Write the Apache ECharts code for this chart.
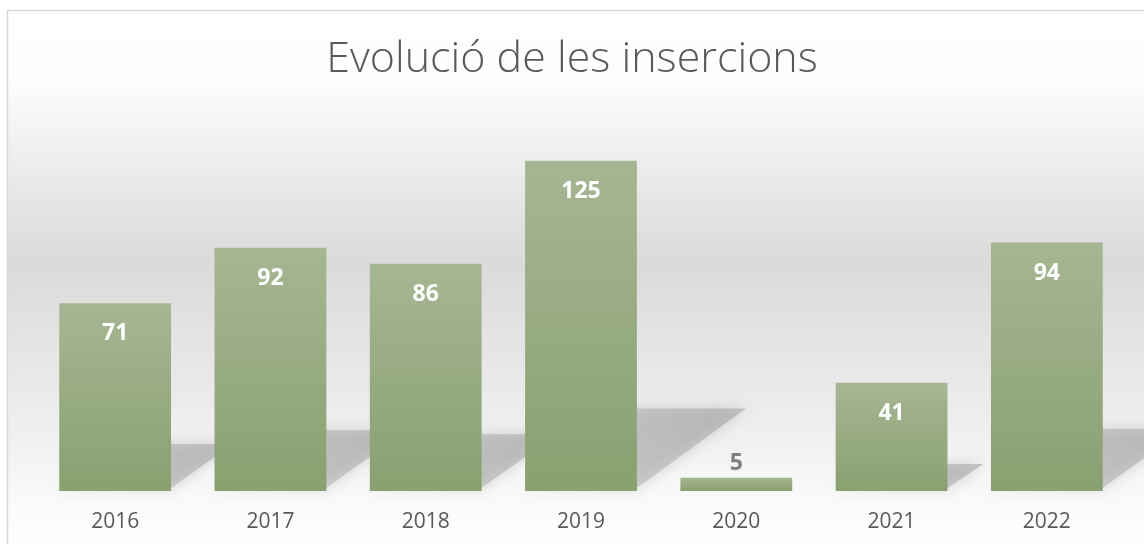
<!DOCTYPE html>
<html>
<head>
<meta charset="utf-8">
<script src="https://cdn.jsdelivr.net/npm/echarts@6/dist/echarts.min.js"></script>
<style>
  html, body { margin: 0; padding: 0; background: #fff; }
  #chart { width: 1144px; height: 544px; }
</style>
</head>
<body>
<div id="chart"></div>
<script>
"use strict";
(() => {
    const years = ['2016', '2017', '2018', '2019', '2020', '2021', '2022'];
    const insercions = [71, 92, 86, 125, 5, 41, 94];

    let chart = echarts.init(document.getElementById('chart'));

    // ombra inclinada darrere de cada barra
    const renderShadow = (params, api) => {
        const i = api.value(0);
        const v = api.value(1);
        const base = api.coord([i, 0]);
        const top = api.coord([i, v]);
        const size = api.size([1, 0]);
        const w = size[0] * 0.72;
        const h = base[1] - top[1];
        const dy = h * 0.25;
        const dx = h * 0.33;
        const x0 = base[0] - w / 2;
        const x1 = base[0] + w / 2;
        return {
            type: 'polygon',
            shape: {
                points: [[x0, base[1] - 3], [x1, base[1] - 3], [x1 + dx, base[1] - dy], [x0 + dx, base[1] - dy]]
            },
            style: {
                fill: new echarts.graphic.LinearGradient(0, 1, 1, 0, [
                    { offset: 0, color: 'rgba(175,175,175,0.35)' },
                    { offset: 1, color: 'rgba(165,165,165,0.6)' }
                ]),
                shadowBlur: 14,
                shadowColor: 'rgba(160,160,160,0.8)'
            }
        };
    };

    let option = {
        animation: false,
        graphic: [{
            type: 'rect',
            z: -10,
            shape: { x: 7.5, y: 10.5, width: 1160, height: 560 },
            style: {
                stroke: '#d9d9d9',
                lineWidth: 1.5,
                fill: new echarts.graphic.LinearGradient(0, 0, 0, 1, [
                    { offset: 0, color: '#ffffff' },
                    { offset: 0.12, color: '#fdfdfd' },
                    { offset: 0.45, color: '#dadada' },
                    { offset: 0.75, color: '#efefef' },
                    { offset: 0.92, color: '#fdfdfd' },
                    { offset: 1, color: '#ffffff' }
                ])
            }
        }],
        title: {
            text: 'Evolució de les insercions',
            left: 'center',
            top: 33,
            textStyle: {
                fontFamily: 'Open Sans',
                fontWeight: 300,
                fontSize: 43,
                color: '#595959'
            }
        },
        grid: { left: 37.5, right: 19.5, top: 121, bottom: 53 },
        xAxis: {
            type: 'category',
            data: years,
            axisLine: { show: false },
            axisTick: { show: false },
            axisLabel: {
                fontFamily: 'Open Sans',
                fontSize: 21,
                color: '#595959',
                margin: 21
            }
        },
        yAxis: {
            type: 'value',
            min: 0,
            max: 140,
            show: false,
            splitLine: { show: false }
        },
        series: [
            {
                type: 'custom',
                renderItem: renderShadow,
                data: insercions.map((v, i) => [i, v]),
                z: 1,
                silent: true
            },
            {
                type: 'bar',
                data: insercions.map(v => ({
                    value: v,
                    label: v < 10 ? {
                        position: 'top',
                        distance: 3,
                        color: '#7f7f7f'
                    } : undefined
                })),
                barWidth: '72%',
                z: 2,
                itemStyle: {
                    color: new echarts.graphic.LinearGradient(0, 0, 0, 1, [
                        { offset: 0, color: '#a6b693' },
                        { offset: 1, color: '#89a070' }
                    ])
                },
                label: {
                    show: true,
                    position: 'insideTop',
                    distance: 19,
                    fontFamily: 'Open Sans',
                    fontWeight: 'bold',
                    fontSize: 23,
                    color: '#ffffff'
                }
            }
        ]
    };
    chart.setOption(option);
})();
</script>
</body>
</html>
